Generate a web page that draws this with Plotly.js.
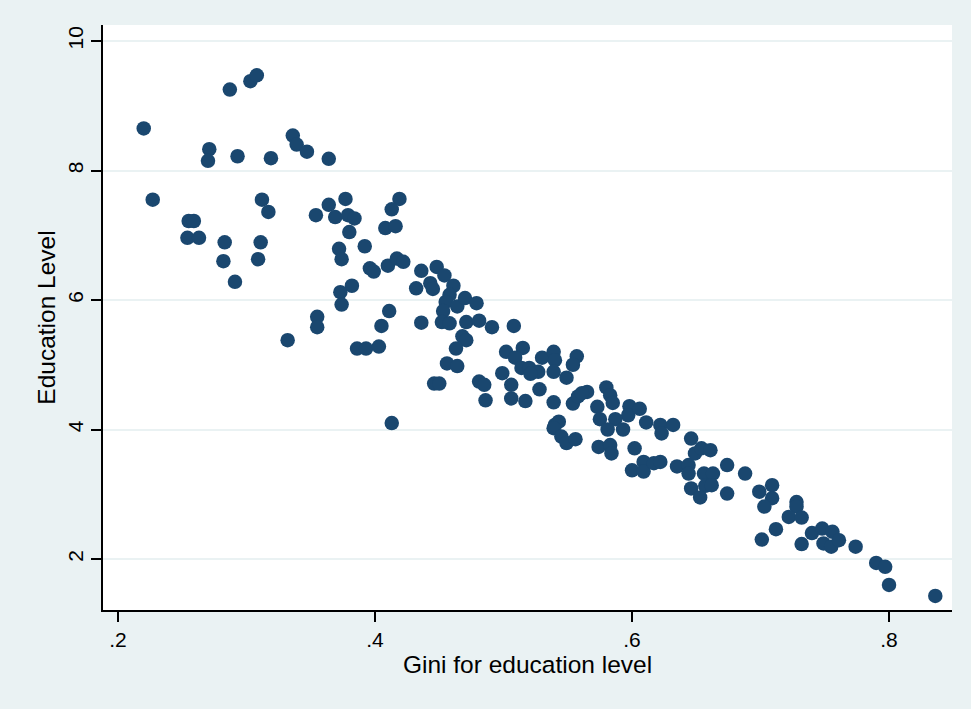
<!DOCTYPE html>
<html>
<head>
<meta charset="utf-8">
<script src="https://cdn.plot.ly/plotly-3.0.1.min.js"></script>
<style>
html,body{margin:0;padding:0;background:#EAF2F3;}
#chart{width:971px;height:709px;}
</style>
</head>
<body>
<div id="chart"></div>
<script>
// Gini for education level (x) and Education Level (y)
const giniX = [
  0.220,0.227,0.287,0.303,0.308,0.271,0.270,0.293,0.319,0.336,0.339,0.347,0.364,0.312,0.317,
  0.255,0.259,0.254,0.263,0.283,0.282,0.291,0.311,0.309,0.354,0.355,0.355,0.332,0.364,0.377,
  0.369,0.379,0.384,0.380,0.419,0.413,0.408,0.416,0.372,0.374,0.392,0.396,0.399,0.410,0.417,
  0.422,0.382,0.373,0.374,0.411,0.405,0.386,0.393,0.403,0.436,0.436,0.448,0.454,0.432,0.443,
  0.445,0.461,0.458,0.455,0.453,0.464,0.470,0.479,0.452,0.458,0.471,0.481,0.491,0.508,0.468,
  0.471,0.463,0.456,0.464,0.413,0.446,0.450,0.481,0.485,0.486,0.499,0.506,0.506,0.502,0.515,
  0.509,0.514,0.520,0.530,0.539,0.540,0.557,0.554,0.527,0.521,0.539,0.549,0.528,0.517,0.539,
  0.554,0.558,0.565,0.561,0.573,0.580,0.583,0.585,0.598,0.597,0.606,0.575,0.587,0.581,0.593,
  0.540,0.543,0.539,0.545,0.549,0.556,0.574,0.583,0.584,0.602,0.611,0.622,0.623,0.632,0.646,
  0.600,0.609,0.609,0.617,0.622,0.635,0.644,0.644,0.649,0.654,0.661,0.656,0.663,0.674,0.646,
  0.657,0.662,0.653,0.674,0.688,0.699,0.709,0.709,0.703,0.728,0.728,0.722,0.732,0.712,0.701,
  0.732,0.740,0.748,0.756,0.749,0.755,0.761,0.774,0.790,0.797,0.800,0.836
];
const eduY = [
  8.65,7.55,9.25,9.38,9.47,8.33,8.15,8.22,8.19,8.54,8.40,8.29,8.18,7.55,7.36,
  7.22,7.22,6.96,6.96,6.89,6.60,6.28,6.89,6.63,7.31,5.74,5.58,5.38,7.47,7.56,
  7.28,7.31,7.26,7.05,7.56,7.40,7.11,7.14,6.79,6.63,6.83,6.49,6.44,6.53,6.64,
  6.59,6.22,6.12,5.93,5.83,5.60,5.25,5.25,5.28,5.65,6.45,6.51,6.38,6.18,6.26,
  6.17,6.22,6.08,5.97,5.83,5.90,6.03,5.95,5.66,5.64,5.66,5.68,5.58,5.60,5.44,
  5.38,5.25,5.02,4.98,4.10,4.71,4.71,4.74,4.69,4.45,4.87,4.69,4.48,5.20,5.26,
  5.11,4.95,4.95,5.11,5.20,5.07,5.13,5.00,4.89,4.86,4.89,4.80,4.62,4.44,4.42,
  4.40,4.51,4.58,4.56,4.35,4.65,4.53,4.41,4.36,4.22,4.32,4.16,4.16,4.00,4.00,
  4.07,4.12,4.02,3.89,3.79,3.85,3.73,3.76,3.63,3.71,4.11,4.07,3.94,4.07,3.86,
  3.37,3.50,3.35,3.48,3.50,3.43,3.45,3.32,3.63,3.71,3.68,3.32,3.32,3.45,3.09,
  3.13,3.14,2.95,3.01,3.32,3.04,3.14,2.94,2.81,2.88,2.81,2.65,2.64,2.46,2.30,
  2.23,2.40,2.47,2.42,2.24,2.19,2.29,2.19,1.94,1.88,1.60,1.43
];
const xTickVals = [0.2,0.4,0.6,0.8];
const xTickText = ['.2','.4','.6','.8'];
const yTickVals = [2,4,6,8,10];
const yTickText = ['2','4','6','8','10'];

const font = 'Liberation Sans, Arial, sans-serif';

Plotly.newPlot('chart', [{
  type: 'scatter',
  mode: 'markers',
  x: giniX,
  y: eduY,
  marker: {color: '#1A476F', size: 14.5, line: {width: 0}},
  hoverinfo: 'x+y'
}], {
  width: 971, height: 709,
  paper_bgcolor: '#EAF2F3',
  plot_bgcolor: '#FFFFFF',
  showlegend: false,
  margin: {l: 103, r: 19, t: 25, b: 99},
  font: {family: font, color: '#000', size: 21},
  xaxis: {
    range: [0.1883, 0.849],
    tickvals: xTickVals, ticktext: xTickText,
    ticks: 'outside', ticklen: 10, tickwidth: 2, tickcolor: '#000',
    showline: true, linecolor: '#000', linewidth: 2,
    showgrid: false, zeroline: false,
    tickfont: {family: font, size: 21, color: '#000'},
    title: {text: 'Gini for education level', font: {family: font, size: 24.5, color: '#000'}, standoff: 2}
  },
  yaxis: {
    range: [1.2124, 10.247],
    tickvals: yTickVals, ticktext: yTickText,
    tickangle: -90,
    ticks: 'outside', ticklen: 10, tickwidth: 2, tickcolor: '#000',
    showline: true, linecolor: '#000', linewidth: 2,
    showgrid: true, gridcolor: '#EAF2F3', gridwidth: 2,
    zeroline: false,
    tickfont: {family: font, size: 21, color: '#000'},
    title: {text: 'Education Level', font: {family: font, size: 24.5, color: '#000'}, standoff: 1}
  }
}, {displayModeBar: false});
</script>
</body>
</html>
